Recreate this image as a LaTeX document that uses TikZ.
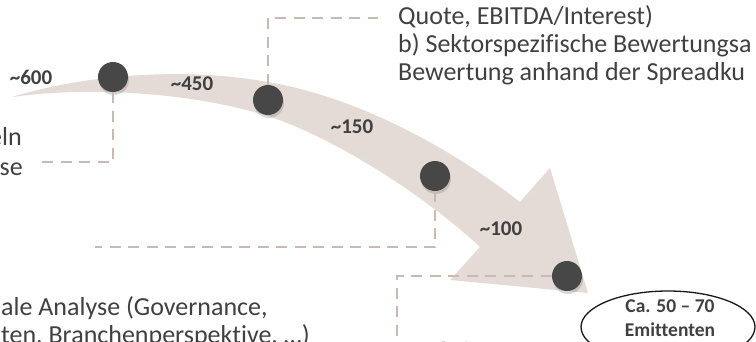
\documentclass[tikz,border=0pt]{standalone}
\usepackage{fontspec}
\setmainfont{Carlito}[Ligatures={NoCommon}]
\usetikzlibrary{shadows,shapes.geometric}
\definecolor{bandfill}{HTML}{E4DBD7}
\definecolor{dotgray}{HTML}{474747}
\definecolor{dashtan}{HTML}{C9B9B2}
\definecolor{textgray}{HTML}{404040}

\begin{document}
\begin{tikzpicture}[x=1pt,y=-1pt,
    dot/.style={circle,fill=dotgray,minimum size=30pt,inner sep=0pt,
      drop shadow={shadow xshift=1pt,shadow yshift=-3pt,opacity=0.3}},
    dashline/.style={draw=dashtan,line width=2.5pt,dash pattern=on 11pt off 7.5pt},
    numtext/.style={inner sep=0pt,text=textgray,font=\fontsize{21}{24}\selectfont\bfseries},
    bodytext/.style={inner sep=0pt,text=textgray,anchor=base west,font=\fontsize{26}{29}\selectfont},
    boldtext/.style={inner sep=0pt,text=textgray,anchor=base west,font=\fontsize{26}{29}\selectfont\bfseries}]
    \useasboundingbox (0,0) rectangle (756,341);
    \clip (0,0) rectangle (756,341);

    \fill[bandfill] (12,97) .. controls (80,76) and (180,66) .. (268,82)
      .. controls (350,96) and (440,140) .. (520,202) -- (550,168) -- (588,293)
      -- (450,280) -- (480,247) .. controls (430,200) and (340,140) .. (268,116)
      .. controls (200,95) and (100,85) .. (12,97) -- cycle;

    \node[dot] (d1) at (113,77) {};
    \node[dot] (d2) at (268,100) {};
    \node[dot] (d3) at (435,176) {};
    \node[dot] (d4) at (567,276) {};

    \coordinate (e1) at (40,162);
    \coordinate (e2) at (378,18);
    \coordinate (e3) at (95,247);
    \coordinate (e4) at (397,345);
    \draw[dashline] (d1.south) |- (e1);
    \draw[dashline] (d2.north) |- (e2);
    \draw[dashline] (d3.south) |- (e3);
    \draw[dashline] (d4.west) -| (e4);

    \node[numtext] (n600) at (31,77) {\textasciitilde600};
    \node[numtext] (n450) at (192,84) {\textasciitilde450};
    \node[numtext] (n150) at (352,127) {\textasciitilde150};
    \node[numtext] (n100) at (501,229) {\textasciitilde100};

    \node[bodytext] (q1) at (398,24) {Quote, EBITDA/Interest)};
    \node[bodytext] (q2) at (398,52) {b) Sektorspezifische Bewertungsa};
    \node[bodytext] (q3) at (398,80) {Bewertung anhand der Spreadku};

    \node[bodytext,anchor=base east] (l1) at (22,145) {eln};
    \node[bodytext,anchor=base east] (l2) at (23,175) {se};

    \node[bodytext] (b1) at (1,315) {ale Analyse (Governance,};
    \node[bodytext] (b2) at (1,343) {ten, Branchenperspektive, …)};

    \node[boldtext] (s4) at (417,360) {Schritt 4};

    \node[draw=black!90,line width=1.3pt,ellipse,minimum width=174pt,minimum height=72pt] (em) at (668,327) {};
    \node[align=center,inner sep=0pt,text=textgray,font=\fontsize{19.5}{24}\selectfont\bfseries] (et) at (670,318) {Ca. 50 -- 70\\Emittenten};
  \end{tikzpicture}
\end{document}
